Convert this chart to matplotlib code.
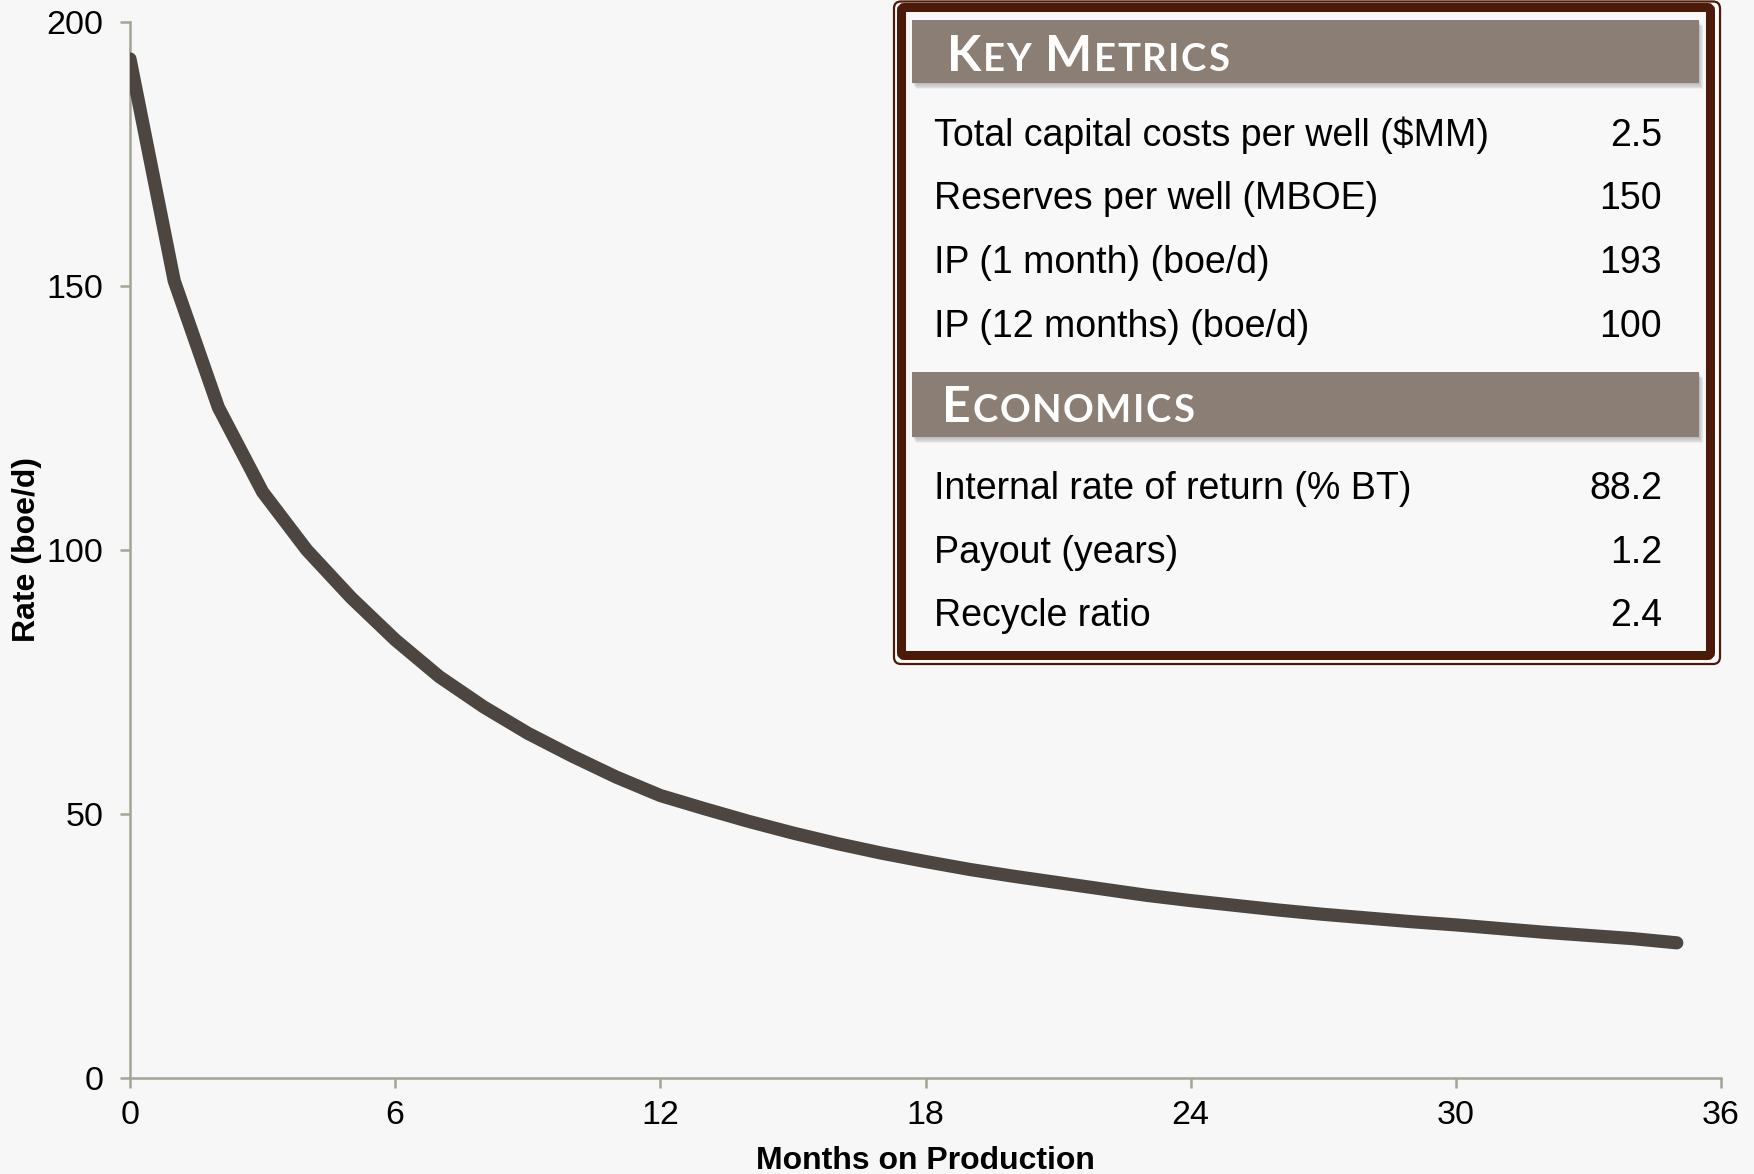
"""Type-curve decline chart with key metrics / economics panel."""

import matplotlib.pyplot as plt
from matplotlib.patches import FancyBboxPatch, Rectangle

MONTHS = list(range(36))
RATE = [193, 151, 127, 111, 100, 91, 83, 76, 70.3, 65.3,
        61, 57, 53.5, 51, 48.6, 46.4, 44.4, 42.6, 41, 39.5,
        38.2, 37, 35.8, 34.6, 33.6, 32.7, 31.8, 31, 30.3, 29.6,
        29, 28.3, 27.6, 27, 26.4, 25.6]

X_TICKS = [0, 6, 12, 18, 24, 30, 36]
Y_TICKS = [0, 50, 100, 150, 200]

KEY_LABELS = ["Total capital costs per well ($MM)", "Reserves per well (MBOE)",
              "IP (1 month) (boe/d)", "IP (12 months) (boe/d)"]
KEY_VALUES = ["2.5", "150", "193", "100"]
ECON_LABELS = ["Internal rate of return (% BT)", "Payout (years)", "Recycle ratio"]
ECON_VALUES = ["88.2", "1.2", "2.4"]

BG = "#f7f7f7"
LINE = "#4d4640"
SPINE = "#a4a494"
BROWN = "#4b1a08"
HEADER = "#8b7e74"
W, H = 1754, 1174

plt.rcParams["font.family"] = ["Liberation Sans", "DejaVu Sans"]

fig = plt.figure(figsize=(W / 100, H / 100), dpi=100, facecolor=BG)

# ---- main chart ----
ax = fig.add_axes([130 / W, (H - 1078) / H, (1721 - 130) / W, (1078 - 22) / H])
ax.set_facecolor(BG)
ax.plot(MONTHS, RATE, color=LINE, lw=9.5, solid_capstyle="round",
        solid_joinstyle="round", zorder=3)
ax.set_xlim(0, 36)
ax.set_ylim(0, 200)
ax.set_xticks(X_TICKS)
ax.set_yticks(Y_TICKS)
for s in ("top", "right"):
    ax.spines[s].set_visible(False)
for s in ("left", "bottom"):
    ax.spines[s].set_color(SPINE)
    ax.spines[s].set_linewidth(1.8)
ax.tick_params(axis="both", colors=SPINE, labelcolor="black", labelsize=24.5,
               width=1.8, length=7)
ax.tick_params(axis="y", pad=12)
ax.tick_params(axis="x", pad=9)
ax.set_xlabel("Months on Production", fontsize=23, fontweight="bold")
ax.set_ylabel("Rate (boe/d)", fontsize=23, fontweight="bold")
ax.xaxis.set_label_coords(0.5, -0.064)
ax.yaxis.set_label_coords(-0.055, 0.5)

# ---- metrics panel (pixel coordinates, y down) ----
ov = fig.add_axes([0, 0, 1, 1], zorder=5)
ov.set_xlim(0, W)
ov.set_ylim(H, 0)
ov.axis("off")
ov.patch.set_alpha(0)

ov.add_patch(FancyBboxPatch((894, 1.5), 826, 662.5,
                            boxstyle="round,pad=0,rounding_size=7",
                            fc="white", ec=BROWN, lw=1.6))
ov.add_patch(FancyBboxPatch((901.5, 7.5), 809, 648,
                            boxstyle="round,pad=0,rounding_size=3",
                            fc="#f8f8f8", ec=BROWN, lw=6.5))


def header(y0, h, words, x_text, baseline):
    # soft drop shadow under the bar
    for k in range(1, 8):
        ov.add_patch(Rectangle((912 + k * 0.6, y0 + k * 0.9), 787, h,
                               fc="black", ec="none", alpha=0.035))
    ov.add_patch(Rectangle((912, y0), 787, h, fc=HEADER, ec="none"))
    # small caps: big first letter, smaller rest, loosely tracked
    prev = None
    for w_i, word in enumerate(words):
        for c_i, ch in enumerate(word):
            big = c_i == 0
            kw = dict(color="white", family=["Lato", "DejaVu Sans"],
                      fontweight="bold", va="baseline", ha="left",
                      fontsize=36 if big else 27.5)
            if prev is None:
                prev = ov.text(x_text, baseline, ch, **kw)
            else:
                gap = 10 if (big and w_i > 0) else 1.1
                prev = ov.annotate(ch, xy=(1, baseline),
                                   xycoords=(prev, ov.transData),
                                   xytext=(gap, 0), textcoords="offset points",
                                   **kw)


header(20, 63, ["KEY", "METRICS"], 947, 71)
header(372, 65, ["ECONOMICS"], 942, 422)


def rows(labels, values, first_baseline):
    for i, (lab, val) in enumerate(zip(labels, values)):
        yb = first_baseline + 63.7 * i
        ov.text(934, yb, lab, fontsize=27, va="baseline", ha="left")
        ov.text(1662, yb, val, fontsize=27, va="baseline", ha="right")


rows(KEY_LABELS, KEY_VALUES, 145.5)
rows(ECON_LABELS, ECON_VALUES, 499)

fig.savefig("out.png", dpi=100, facecolor=BG)
